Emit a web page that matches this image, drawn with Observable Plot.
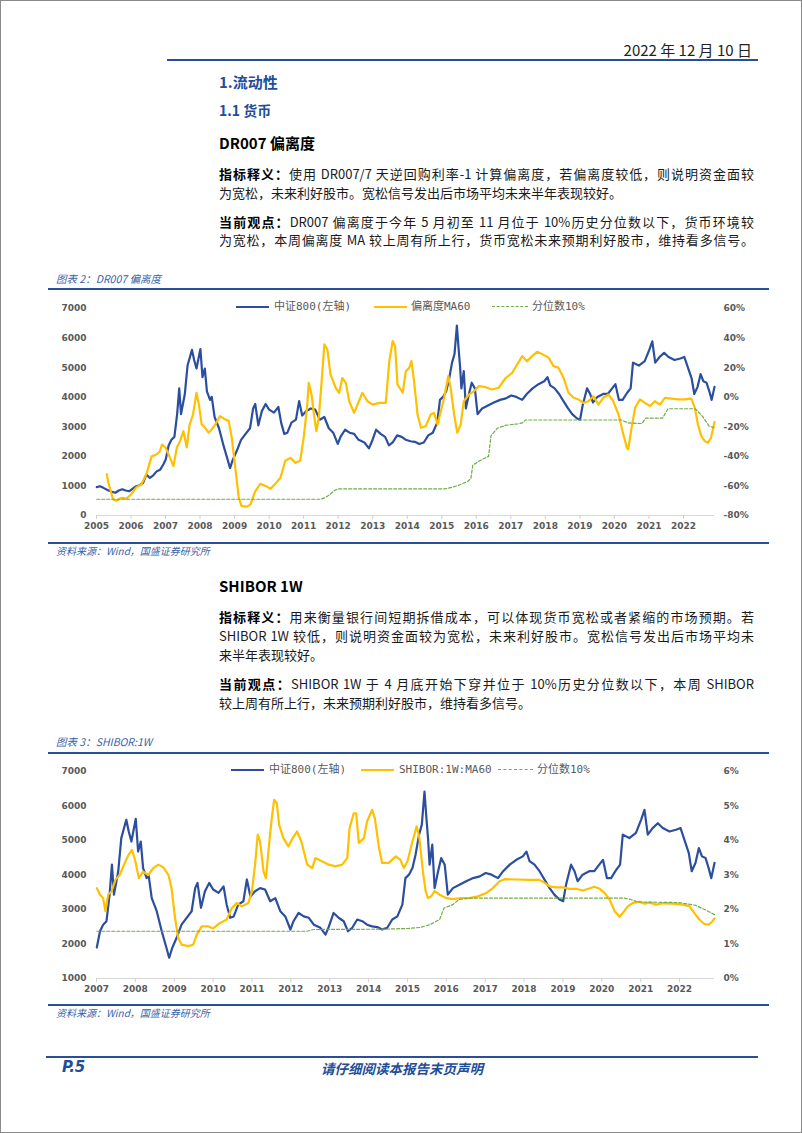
<!DOCTYPE html>
<html lang="zh-CN">
<head>
<meta charset="utf-8">
<script src="https://cdn.jsdelivr.net/npm/d3@7"></script>
<script src="https://cdn.jsdelivr.net/npm/@observablehq/plot@0.6"></script>
<style>
body{margin:0;background:#fff;}
#page{position:relative;width:802px;height:1133px;box-sizing:border-box;border:1px solid #8a8a8a;overflow:hidden;font-family:"Noto Sans CJK SC",sans-serif;color:#111;}
.abs{position:absolute;white-space:nowrap;}
.rule{position:absolute;height:2px;background:#2b4f96;}
.ln{position:absolute;left:218px;width:535px;height:19px;line-height:19px;font-size:13px;text-align:justify;text-align-last:justify;color:#1a1a1a;}
.ln.last{text-align-last:left;}
.ln b{font-weight:700;color:#000;}
.cap{position:absolute;left:55px;font-size:10.5px;font-style:italic;color:#3a62a8;white-space:nowrap;}
.src{position:absolute;left:55px;font-size:10px;font-style:italic;color:#3a62a8;white-space:nowrap;}
.leg{position:absolute;font-family:"DejaVu Sans Mono","Noto Sans CJK SC",monospace;font-size:11px;color:#595959;white-space:nowrap;line-height:14px;}
.sw{position:absolute;height:0;}
svg.chart{position:absolute;display:block;}
</style>
</head>
<body>
<div id="page">
  <div class="abs" style="right:49px;top:38px;font-size:15px;font-family:'Liberation Sans Narrow','Noto Sans CJK SC',sans-serif;color:#222;">2022 年 12 月 10 日</div>
  <div class="rule" style="left:166px;width:591px;top:58px;"></div>

  <div class="abs" style="left:218px;top:70px;font-size:15px;font-weight:700;color:#1f4e9a;">1.流动性</div>
  <div class="abs" style="left:218px;top:99px;font-size:14px;font-weight:700;color:#1f4e9a;">1.1 货币</div>
  <div class="abs" style="left:218px;top:131px;font-size:15px;font-weight:700;color:#000;">DR007 偏离度</div>

  <div class="ln" style="top:163px;"><b>指标释义：</b>使用 DR007/7 天逆回购利率-1 计算偏离度，若偏离度较低，则说明资金面较</div>
  <div class="ln last" style="top:182px;">为宽松，未来利好股市。宽松信号发出后市场平均未来半年表现较好。</div>
  <div class="ln" style="top:211px;"><b>当前观点：</b>DR007 偏离度于今年 5 月初至 11 月位于 10%历史分位数以下，货币环境较</div>
  <div class="ln" style="top:229px;">为宽松，本周偏离度 MA 较上周有所上行，货币宽松未来预期利好股市，维持看多信号。</div>

  <div class="cap" style="top:270px;">图表 2：DR007 偏离度</div>
  <div class="rule" style="left:47px;width:721px;top:287px;"></div>
  <div id="c1"></div>
  <div class="rule" style="left:47px;width:721px;top:541px;"></div>
  <div class="src" style="top:542px;">资料来源：Wind，国盛证券研究所</div>

  <div class="abs" style="left:218px;top:574px;font-size:15px;font-weight:700;color:#000;">SHIBOR 1W</div>
  <div class="ln" style="top:606px;"><b>指标释义：</b>用来衡量银行间短期拆借成本，可以体现货币宽松或者紧缩的市场预期。若</div>
  <div class="ln" style="top:625px;">SHIBOR 1W 较低，则说明资金面较为宽松，未来利好股市。宽松信号发出后市场平均未</div>
  <div class="ln last" style="top:644px;">来半年表现较好。</div>
  <div class="ln" style="top:673px;"><b>当前观点：</b>SHIBOR 1W 于 4 月底开始下穿并位于 10%历史分位数以下，本周 SHIBOR</div>
  <div class="ln last" style="top:692px;">较上周有所上行，未来预期利好股市，维持看多信号。</div>

  <div class="cap" style="top:733px;">图表 3：SHIBOR:1W</div>
  <div class="rule" style="left:47px;width:721px;top:751px;"></div>
  <div id="c2"></div>
  <div class="rule" style="left:47px;width:721px;top:1003px;"></div>
  <div class="src" style="top:1004px;">资料来源：Wind，国盛证券研究所</div>

  <div class="rule" style="left:45px;width:712px;top:1055px;"></div>
  <div class="abs" style="left:61px;top:1057px;font-size:15px;font-weight:700;font-style:italic;color:#1f4e9a;font-family:'DejaVu Sans',sans-serif;">P.5</div>
  <div class="abs" style="left:320px;top:1057px;font-size:13.5px;font-weight:700;font-style:italic;color:#1f4e9a;">请仔细阅读本报告末页声明</div>
</div>

<script>
// ---------- DATA ----------
// 中证800 (left axis, both charts)
const csiDates = ["2005-01-04","2005-02-06","2005-03-15","2005-05-08","2005-06-14","2005-07-20","2005-08-25","2005-10-01","2005-11-06","2005-12-13",
"2006-01-19","2006-02-24","2006-04-01","2006-05-08","2006-06-13","2006-07-19","2006-08-25","2006-10-01","2006-11-06","2006-12-13",
"2007-01-04","2007-02-03","2007-03-04","2007-04-05","2007-05-04","2007-05-26","2007-06-14","2007-07-24","2007-08-22","2007-10-08","2007-10-31","2007-11-25",
"2008-01-05","2008-01-27","2008-02-21","2008-03-14","2008-04-16","2008-05-04","2008-06-03","2008-07-20","2008-09-05","2008-10-19","2008-11-14","2008-12-13",
"2009-01-23","2009-03-10","2009-04-27","2009-06-13","2009-07-16","2009-08-07","2009-09-09","2009-10-16","2009-11-25",
"2010-01-01","2010-02-21","2010-04-09","2010-05-08","2010-06-10","2010-07-13","2010-08-25","2010-10-12","2010-11-14","2010-12-17",
"2011-01-30","2011-03-18","2011-05-04","2011-06-21","2011-08-08","2011-09-24","2011-11-10","2011-12-28",
"2012-01-26","2012-03-14","2012-05-01","2012-06-18","2012-08-04","2012-10-05","2012-11-22","2012-12-24",
"2013-02-06","2013-03-25","2013-05-12","2013-06-21","2013-07-31","2013-09-16","2013-11-03","2013-12-17",
"2014-02-03","2014-03-22","2014-05-08","2014-06-25","2014-08-11","2014-09-28","2014-11-14","2014-12-13",
"2015-01-15","2015-02-17","2015-03-18","2015-04-20","2015-05-16","2015-06-10","2015-06-28","2015-07-13","2015-07-28","2015-08-22","2015-09-13","2015-10-16","2015-11-14","2015-12-17",
"2016-01-15","2016-03-03","2016-05-04","2016-07-05","2016-09-09","2016-11-10",
"2017-01-05","2017-02-28","2017-05-01","2017-06-18","2017-08-19","2017-10-20","2017-12-20",
"2018-01-23","2018-02-21","2018-04-09","2018-05-26","2018-07-13","2018-08-29","2018-10-12","2018-11-29",
"2019-01-03","2019-01-30","2019-03-18","2019-04-20","2019-05-19","2019-07-05","2019-09-05","2019-10-23","2019-12-08",
"2020-01-12","2020-02-18","2020-03-28","2020-05-15","2020-06-21","2020-07-16","2020-09-16","2020-11-17",
"2021-01-04","2021-02-05","2021-03-08","2021-04-23","2021-06-10","2021-07-27","2021-09-28","2021-11-28",
"2022-01-10","2022-02-10","2022-03-28","2022-04-25","2022-05-30","2022-07-01","2022-07-30","2022-09-02","2022-10-01","2022-10-26","2022-11-25"];
const csiValues = [960,990,935,845,800,770,845,890,845,820,
910,990,1025,1100,1390,1270,1360,1500,1550,1750,
1900,2370,2560,2660,3430,4300,3430,4100,5070,5600,5260,4970,
5630,4680,4970,4200,3910,4010,3330,2950,2370,1890,1600,1890,
2180,2560,2760,2950,3620,3770,3050,3530,3770,
3580,3480,3670,3140,2760,2800,3140,3240,3870,3380,
3530,3620,3580,3240,3330,2950,2800,2420,
2660,2900,2800,2760,2560,2470,2270,2510,
2900,2760,2660,2370,2470,2710,2660,2560,
2510,2490,2420,2470,2710,2800,3140,3910,
4010,4200,4590,5170,5460,6420,5650,5070,4300,4880,3620,4110,4490,4300,
3430,3620,3720,3820,3910,3960,
4060,4010,3910,4110,4300,4440,4540,
4680,4400,4300,4110,3860,3620,3430,3290,
3240,3720,4300,4110,3820,4010,4110,4110,4300,
4440,3910,3910,4150,4300,5170,5070,5220,
5600,5890,5170,5360,5500,5360,5260,5310,
5360,5070,4640,4110,4350,4780,4540,4490,4200,3910,4350];

// 偏离度MA60 (%, right axis of 图表2)
const devDates = ["2005-04-20","2005-05-05","2005-06-25","2005-07-31","2005-09-24","2005-11-14","2006-01-01","2006-02-28","2006-04-20","2006-06-13","2006-08-07","2006-09-27","2006-11-03","2006-11-25",
"2007-01-01","2007-02-18","2007-03-26","2007-05-01","2007-06-03","2007-07-09","2007-08-14","2007-09-13","2007-10-19","2007-11-25","2007-12-20",
"2008-01-19","2008-02-24","2008-04-01","2008-05-04","2008-06-10","2008-07-31","2008-09-24","2008-10-30","2008-12-02",
"2009-01-08","2009-02-14","2009-03-15","2009-05-12","2009-06-18","2009-08-08","2009-10-01","2009-11-25",
"2010-01-15","2010-03-14","2010-05-01","2010-06-21","2010-08-14","2010-10-08","2010-11-25",
"2011-01-01","2011-02-06","2011-02-24","2011-03-26","2011-04-20","2011-05-16","2011-06-10","2011-07-16","2011-08-08","2011-09-09","2011-10-12","2011-12-06",
"2012-01-12","2012-02-14","2012-03-22","2012-04-27","2012-06-18","2012-07-24","2012-09-13","2012-11-07",
"2013-01-01","2013-03-11","2013-05-19","2013-06-25","2013-07-31","2013-08-25","2013-09-20","2013-11-14","2013-12-17",
"2014-01-23","2014-02-14","2014-03-14","2014-04-20","2014-05-26","2014-07-16","2014-09-06","2014-10-12","2014-11-18",
"2015-01-26","2015-03-11","2015-04-05","2015-05-12","2015-06-14","2015-07-20","2015-08-22","2015-10-16","2015-12-06",
"2016-01-30","2016-04-09","2016-06-17","2016-08-25","2016-11-07",
"2017-01-15","2017-03-07","2017-05-01","2017-06-21","2017-08-14","2017-10-05","2017-11-25",
"2018-02-06","2018-03-28","2018-05-19","2018-07-13","2018-09-02","2018-10-27","2018-12-17",
"2019-02-06","2019-04-01","2019-05-23","2019-07-16","2019-09-06","2019-10-31","2019-12-20",
"2020-02-14","2020-04-05","2020-05-12","2020-05-26","2020-07-01","2020-08-07","2020-09-27","2020-11-18",
"2021-01-12","2021-03-04","2021-04-27","2021-06-18","2021-08-25","2021-11-07",
"2022-01-15","2022-03-25","2022-05-01","2022-06-03","2022-07-09","2022-08-14","2022-09-16","2022-10-19","2022-11-25"];
const devValues = [-52,-57.5,-69,-70,-68,-68.6,-65.8,-60.8,-59,-52,-40,-38.7,-36.5,-32,
-34,-41,-46.6,-34,-29.7,-23,-34,-18.5,-11.7,3,-5,
-18.5,-20.7,-24,-21.8,-18.5,-12.8,-15,-16,-27.5,
-47.7,-68,-73.7,-74,-72.5,-63.5,-58.6,-60,
-62,-58,-54.5,-43,-41,-44.4,-43,
-27.5,-7,9.7,1.8,-11.7,-23,-14,15.4,35.7,32.3,15.4,6.4,
3,13,9.7,-2.7,-10.6,-5,3,-2.7,
-5,-3.8,-3.8,24.4,38,34.5,8.6,3,17.6,
20,24.4,10.9,-11.7,-20.7,-19.6,-11.7,-10.6,-18.5,
-0.4,14.3,6.4,-11.7,-24,-18.5,-2.7,1.8,4,
7.5,6.8,5.2,6.4,13,
16.5,22,27.8,24.4,27.8,30.7,29.3,
26.6,21,20,13,3,-0.4,-1.5,
-3.8,-2.7,0.7,-5,-0.4,1.8,-2.7,
-11.7,-25.2,-34.2,-35.3,-20.7,-7.2,-1.5,-3.8,
-6,-2.7,-5,-0.4,-0.9,-1.5,
-1.5,-0.9,-7.2,-18.5,-26.3,-29.7,-30.8,-27.5,-16.8];

// 分位数10% (图表2, %)
const q1Dates = ["2005-01-04","2011-07-01","2011-08-15","2011-10-01","2011-11-25","2012-01-01","2015-02-01","2015-04-15","2015-07-01","2015-10-01","2015-11-05","2015-11-25","2016-02-05","2016-05-10","2016-06-05","2016-08-10","2016-11-05","2017-03-15","2017-05-01","2017-06-05","2020-03-15","2020-05-25","2020-10-20","2020-11-25","2021-05-25","2021-07-20","2022-05-05","2022-07-20","2022-09-30","2022-11-25"];
const q1Values = [-69,-69,-68,-66,-63,-62,-62,-61,-59.5,-57,-55,-46,-43,-40,-26,-21,-19,-18,-17.4,-15.4,-15.4,-17.4,-17.8,-14.2,-14.2,-7.8,-7.8,-12.8,-19.6,-20.7];

// SHIBOR:1W:MA60 (%)
const shiborDates = ["2007-01-04","2007-02-03","2007-03-04","2007-03-26","2007-04-20","2007-05-23","2007-06-28","2007-08-07","2007-09-16","2007-10-30","2007-12-01",
"2008-01-01","2008-02-03","2008-03-14","2008-05-01","2008-06-17","2008-08-04","2008-09-20","2008-11-07","2008-12-06",
"2009-01-08","2009-02-06","2009-03-11","2009-05-12","2009-06-28","2009-07-31","2009-09-16","2009-11-18",
"2010-01-01","2010-03-07","2010-05-08","2010-06-25","2010-08-11","2010-09-27","2010-11-28",
"2011-01-01","2011-01-30","2011-02-24","2011-03-18","2011-04-20","2011-05-12","2011-06-07","2011-07-06","2011-07-28","2011-08-22","2011-09-13","2011-10-23","2011-12-09",
"2012-01-19","2012-02-28","2012-04-09","2012-06-03","2012-07-20","2012-08-18","2012-10-19","2012-12-24",
"2013-02-24","2013-04-27","2013-06-14","2013-07-06","2013-08-14","2013-09-06","2013-10-01","2013-11-18","2013-12-17",
"2014-02-03","2014-02-28","2014-04-09","2014-05-08","2014-07-09","2014-09-13","2014-10-27","2014-11-28",
"2015-01-01","2015-02-17","2015-03-28","2015-04-23","2015-05-26","2015-06-21","2015-07-13","2015-08-11","2015-09-13","2015-10-30",
"2016-01-01","2016-03-03","2016-05-23","2016-08-07","2016-10-23",
"2017-01-12","2017-03-14","2017-05-16","2017-07-01","2017-10-19",
"2018-02-21","2018-05-26","2018-07-13","2018-08-29","2018-10-30",
"2019-01-01","2019-03-04","2019-05-05","2019-07-05","2019-09-06","2019-10-23","2019-12-08",
"2020-01-26","2020-03-14","2020-05-01","2020-06-17","2020-07-16","2020-09-02","2020-10-19","2020-12-20",
"2021-02-06","2021-03-25","2021-05-26","2021-07-27","2021-10-30",
"2022-02-03","2022-04-05","2022-05-19","2022-07-05","2022-08-22","2022-10-01","2022-11-07","2022-11-25"];
const shiborValues = [2.62,2.43,2.33,1.95,2.43,2.53,2.86,3.0,3.3,3.59,3.73,
3.4,2.91,3.1,3.0,3.2,3.3,3.22,3.0,2.62,
1.76,1.18,0.98,0.94,0.98,1.27,1.51,1.51,
1.45,1.61,1.71,2.04,2.19,2.09,2.19,
2.53,3.3,4.17,3.97,3.1,2.91,3.78,4.65,5.18,5.08,4.46,4.07,3.83,
4.07,4.26,3.97,3.3,3.2,3.49,3.4,3.3,
3.25,3.3,3.49,4.36,4.79,4.79,3.93,4.07,4.55,
4.89,4.65,3.78,3.35,3.35,3.54,3.44,3.2,
3.4,3.97,4.41,4.07,3.1,2.53,2.33,2.38,2.53,2.43,
2.33,2.3,2.33,2.33,2.38,
2.48,2.62,2.82,2.88,2.87,
2.86,2.86,2.77,2.67,2.64,
2.64,2.6,2.6,2.55,2.61,2.66,2.61,
2.48,2.29,1.95,1.79,1.9,2.09,2.19,2.22,
2.17,2.2,2.14,2.18,2.17,
2.14,2.09,1.9,1.71,1.58,1.56,1.66,1.74];

// 分位数10% (图表3, %)
const q2Dates = ["2007-01-04","2012-06-01","2012-08-01","2014-06-01","2015-01-01","2015-05-01","2015-08-01","2015-10-30","2015-12-10","2016-03-01","2016-05-01","2016-08-01","2020-08-01","2020-10-01","2020-12-01","2022-01-01","2022-06-01","2022-08-25","2022-11-25"];
const q2Values = [1.37,1.37,1.42,1.43,1.45,1.48,1.56,1.71,2.04,2.14,2.29,2.33,2.33,2.29,2.22,2.2,2.12,2.0,1.85];

// axis ticks
const leftTicks1 = [0,1000,2000,3000,4000,5000,6000,7000];
const rightTicks1 = [-80,-60,-40,-20,0,20,40,60];
const leftTicks2 = [1000,2000,3000,4000,5000,6000,7000];
const rightTicks2 = [0,1,2,3,4,5,6];
const years1 = ["2005","2006","2007","2008","2009","2010","2011","2012","2013","2014","2015","2016","2017","2018","2019","2020","2021","2022"];
const years2 = ["2007","2008","2009","2010","2011","2012","2013","2014","2015","2016","2017","2018","2019","2020","2021","2022"];

// legend labels
const legend1 = ["中证800(左轴)","偏离度MA60","分位数10%"];
const legend2 = ["中证800(左轴)","SHIBOR:1W:MA60","分位数10%"];

// ---------- BUILD ----------
const parse = d3.utcParse("%Y-%m-%d");
const BLUE = "#2b4f9e", YELLOW = "#ffc000", GREEN = "#70ad47";
const zip = (ds, vs, f = v => v) => ds.map((d, i) => ({date: parse(d), value: f(vs[i])}));

function makeChart({host, top, xStart, leftTicks, rightTicks, years, blue, yellow, green, toLeft, fromLeft, rightFmt}) {
  const yDomain = [leftTicks[0], leftTicks[leftTicks.length - 1]];
  const chart = Plot.plot({
    width: 721, height: 252,
    marginTop: 17, marginBottom: 28, marginLeft: 48, marginRight: 55,
    style: {fontFamily: "'DejaVu Sans', sans-serif", fontSize: "9px", fontWeight: "bold", color: "#595959", background: "transparent", overflow: "visible"},
    x: {type: "utc", domain: [parse(xStart), parse("2022-11-25")]},
    y: {domain: yDomain},
    marks: [
      Plot.ruleY([yDomain[0]], {stroke: "#d9d9d9", strokeWidth: 1.2}),
      Plot.axisX(years.map(y => parse(y + "-01-01")), {label: null, tickSize: 4, tickPadding: 3, stroke: "#d0d0d0", fill: "#595959", tickFormat: d3.utcFormat("%Y")}),
      Plot.axisY(leftTicks, {anchor: "left", label: null, tickSize: 0, tickPadding: 10, fill: "#595959", tickFormat: d3.format("d")}),
      Plot.axisY(rightTicks.map(toLeft), {anchor: "right", label: null, tickSize: 0, tickPadding: 9, fill: "#595959", tickFormat: d => rightFmt(fromLeft(d))}),
      Plot.line(blue, {x: "date", y: "value", stroke: BLUE, strokeWidth: 2.2, strokeLinejoin: "round"}),
      Plot.line(yellow, {x: "date", y: "value", stroke: YELLOW, strokeWidth: 2.2, strokeLinejoin: "round"}),
      Plot.line(green, {x: "date", y: "value", stroke: GREEN, strokeWidth: 1.2, strokeDasharray: "3,2"})
    ]
  });
  chart.classList.add("chart");
  chart.style.left = "47px";
  chart.style.top = top + "px";
  document.getElementById(host).replaceWith(chart);
}

function makeLegend(y, labels, pos) {
  const page = document.getElementById("page");
  const styles = [
    `border-top:2.5px solid ${BLUE}`,
    `border-top:2.5px solid ${YELLOW}`,
    `border-top:1.3px dashed ${GREEN}`
  ];
  labels.forEach((lab, i) => {
    const [x0, x1, xt] = pos[i];
    const sw = document.createElement("div");
    sw.className = "sw";
    sw.style.cssText = `left:${x0}px;width:${x1 - x0}px;top:${y - 1}px;${styles[i]}`;
    page.appendChild(sw);
    const t = document.createElement("div");
    t.className = "leg";
    t.style.left = xt + "px";
    t.style.top = (y - 7) + "px";
    t.textContent = lab;
    page.appendChild(t);
  });
}

// 图表2: left 0..7000, right -80%..60%
const toLeft1 = p => (p + 80) * 50;
makeChart({
  host: "c1", top: 290, xStart: "2005-01-01",
  leftTicks: leftTicks1, rightTicks: rightTicks1, years: years1,
  blue: zip(csiDates, csiValues),
  yellow: zip(devDates, devValues, toLeft1),
  green: zip(q1Dates, q1Values, toLeft1),
  toLeft: toLeft1, fromLeft: v => Math.round(v / 50 - 80), rightFmt: p => p + "%"
});
makeLegend(306, legend1, [[235, 268, 273], [373, 406, 410], [491, 527, 531]]);

// 图表3: left 1000..7000, right 0%..6%
const toLeft2 = p => 1000 + p * 1000;
const csi2 = zip(csiDates, csiValues).filter(d => d.date >= parse("2007-01-01"));
makeChart({
  host: "c2", top: 753, xStart: "2007-01-01",
  leftTicks: leftTicks2, rightTicks: rightTicks2, years: years2,
  blue: csi2,
  yellow: zip(shiborDates, shiborValues, toLeft2),
  green: zip(q2Dates, q2Values, toLeft2),
  toLeft: toLeft2, fromLeft: v => Math.round((v - 1000) / 1000), rightFmt: p => p + "%"
});
makeLegend(769, legend2, [[230, 263, 268], [360, 393, 398], [497, 532, 536]]);
</script>
</body>
</html>
